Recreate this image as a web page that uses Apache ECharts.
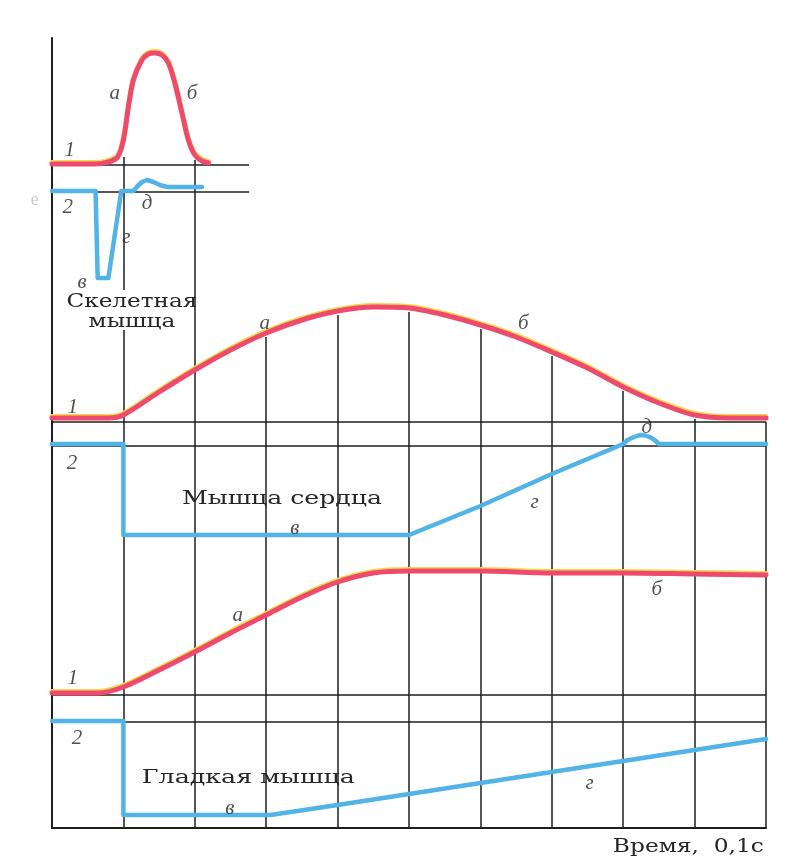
<!DOCTYPE html>
<html><head><meta charset="utf-8">
<script src="https://cdn.jsdelivr.net/npm/echarts@6/dist/echarts.min.js"></script>
<style>html,body{margin:0;padding:0;background:#fff}#c{width:802px;height:866px}</style>
</head><body><div id="c"></div>
<script>
// ---------------- data (time in 0.1 s; amplitude in figure units) ----------------
// Skeletal muscle: 1 = contraction (red), 2 = action potential (blue)
const skT    = [0,0.3,0.6,0.79,0.92,1.0,1.07,1.14,1.26,1.35,1.44,1.54,1.63,1.72,1.82,1.91,2.0,2.1,2.19];
const skRed  = [0,0,0,2,7,24,57,84,104,110,111,109,101,81,51,24,9,3,1];
const skBT   = [0,0.61,0.64,0.79,0.97,1.14,1.2,1.26,1.33,1.42,1.51,1.61,2.1];
const skBlue = [0,0,-87,-87,0,0,5,9,11,9,6,4,4];
// Heart muscle
const hT     = [0,0.5,0.8,1,1.5,2,2.5,3,3.5,4,4.5,5,5.5,6,6.5,7,7.5,8,8.5,9,9.5,10];
const hRed   = [0,0,0,3,26,48,68,85,98,107,111,110,103,93,81,66,50,31,15,3,0,0];
const hBT    = [0,1,1,5,6,7,8,8.06,8.12,8.19,8.25,8.31,8.37,8.44,8.5,10];
const hBlue  = [0,0,-91,-91,-62,-30,0,4,6,8,9,8.5,7,4,0,0];
// Smooth muscle
const smT    = [0,0.64,1,1.5,2,2.5,3,3.5,4,4.5,5,6,7,8,9,10];
const smRed  = [0,0,6,23,41,60,78,96,111,120,122,122,120,120,119,118];
const smBT   = [0,1,1,3.06,4,5,6,7,8,9,10];
const smBlue = [0,0,-94,-94,-84,-73,-62,-51,-40,-29,-18];
// grid times (0.1 s)
const gridTimes = [1,2,3,4,5,6,7,8,9,10];

// ---------------- layout (figure units above the time axis) ----------------
const LEVEL = {skRed:664, skBlue:637, hRed:410, hBlue:384, smRed:135, smBlue:107};
const REF   = {sk1:663, sk2:636, h1:406, h2:382, sm1:133, sm2:106};
const SK_REF_END = 2.76;
const RED = '#EE4A6E', BLUE = '#52B3E6', INK = '#1e1e1e', TXT = '#262626';

function pts(ts, vs, base){ return ts.map((t,i)=>[t, base+vs[i]]); }

// reference lines
const segs = [
  [[0,REF.sk1],[SK_REF_END,REF.sk1]],
  [[0,REF.sk2],[SK_REF_END,REF.sk2]],
  [[0,REF.h1],[10,REF.h1]],
  [[0,REF.h2],[10,REF.h2]],
  [[0,REF.sm1],[10,REF.sm1]],
  [[0,REF.sm2],[10,REF.sm2]],
  [[gridTimes[0],671],[gridTimes[0],538]],
  [[gridTimes[0],498],[gridTimes[0],0]],
  [[gridTimes[1],668],[gridTimes[1],0]]
];
gridTimes.slice(2).forEach(t=>{
  const v = LEVEL.hRed + hRed[hT.indexOf(t)];
  segs.push([[t, v-4],[t,0]]);
});

// letter labels [text, t, v]
const letters = [
  ['а',0.88,735],['б',1.96,735],['1',0.25,678],['2',0.22,621],['д',1.33,625],['г',1.04,591],['в',0.42,546],
  ['1',0.29,421],['2',0.28,365],['а',2.98,505],['б',6.6,505],['в',3.4,300],['г',6.76,326],['д',8.33,401],
  ['1',0.29,150],['2',0.35,90],['а',2.6,213],['б',8.47,239],['в',2.49,20],['г',7.53,45]
];

function redSeries(data){
  return {type:'line', data, smooth:0.3, symbol:'none', clip:false, z:3,
    lineStyle:{color:RED, width:5, cap:'round', join:'round', shadowColor:'#F4D84C', shadowBlur:0, shadowOffsetY:-1.6}};
}
function blueSeries(data){
  return {type:'line', data, symbol:'none', clip:false, z:3,
    lineStyle:{color:BLUE, width:4.5, cap:'round', join:'round'}};
}

const chart = echarts.init(document.getElementById('c'), null, {renderer:'canvas'});
const option = {
  backgroundColor:'#ffffff',
  animation:false,
  grid:{left:52, right:36, top:38, bottom:38, containLabel:false},
  xAxis:{type:'value', min:0, max:10, interval:1,
    axisLine:{show:true, onZero:false, lineStyle:{color:INK, width:2}},
    axisTick:{show:false}, axisLabel:{show:false}, splitLine:{show:false}},
  yAxis:{type:'value', min:0, max:790,
    axisLine:{show:true, onZero:false, lineStyle:{color:INK, width:2}},
    axisTick:{show:false}, axisLabel:{show:false}, splitLine:{show:false}},
  series:[
    {type:'lines', coordinateSystem:'cartesian2d', silent:true, z:1,
      data:segs.map(s=>({coords:s})), lineStyle:{color:INK, width:1.5, opacity:1}},
    redSeries(pts(skT, skRed, LEVEL.skRed)),
    blueSeries(pts(skBT, skBlue, LEVEL.skBlue)),
    redSeries(pts(hT, hRed, LEVEL.hRed)),
    blueSeries(pts(hBT, hBlue, LEVEL.hBlue)),
    redSeries(pts(smT, smRed, LEVEL.smRed)),
    blueSeries(pts(smBT, smBlue, LEVEL.smBlue)),
    {type:'scatter', symbolSize:0, silent:true, z:5, clip:false,
      data:letters.map(l=>({name:l[0], value:[l[1], l[2]]})),
      label:{show:true, position:'inside', formatter:'{b}', color:TXT,
        fontFamily:'Liberation Serif', fontStyle:'italic', fontSize:21}}
  ]
};
chart.setOption(option);

// panel titles, anchored in data coordinates and widened to the printed width
const titles = [
  {text:'Скелетная\nмышца', t:1.12, v:516, w:131, align:'center'},
  {text:'Мышца сердца', t:3.22, v:329, w:200, align:'center'},
  {text:'Гладкая мышца', t:2.75, v:50, w:213, align:'center'},
  {text:'Время,  0,1с', t:9.97, v:-19, w:151, align:'right'}
];
const FONT = '18px "DejaVu Serif"';
const mctx = document.createElement('canvas').getContext('2d');
function measure(txt){ mctx.font = FONT; return Math.max(...txt.split('\n').map(s=>mctx.measureText(s).width)); }
const graphics = titles.map(o=>{
  const p = chart.convertToPixel({gridIndex:0},[o.t,o.v]);
  return {type:'text', x:p[0], y:p[1], scaleX:o.w/measure(o.text), silent:true, z:10,
    style:{text:o.text, font:FONT, fill:TXT, align:o.align, verticalAlign:'middle', lineHeight:20}};
});
const ghost = chart.convertToPixel({gridIndex:0},[-0.24,628]);
graphics.push({type:'text', x:ghost[0], y:ghost[1], silent:true, z:10,
  style:{text:'е', font:'18px "Liberation Serif"', fill:'#cccccc', align:'center', verticalAlign:'middle'}});
chart.setOption({graphic:graphics});
</script>
</body></html>
